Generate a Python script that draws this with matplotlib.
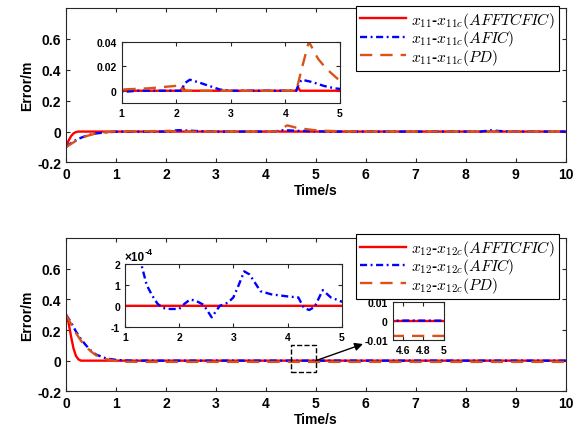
import numpy as np
import matplotlib
matplotlib.use('Agg')
import matplotlib.pyplot as plt
from matplotlib.patches import Rectangle

plt.rcParams['font.family'] = ['Liberation Sans', 'DejaVu Sans']
plt.rcParams['font.weight'] = 'bold'
plt.rcParams['mathtext.fontset'] = 'cm'
plt.rcParams['axes.unicode_minus'] = False

RED = '#ff0000'
BLUE = '#0000ff'
ORANGE = '#d95319'

# ---- x11 tracking error (upper panel) ----
t11_ftc = [0, 0.05, 0.1, 0.15, 0.2, 0.25, 0.3, 2.08, 2.12, 2.16, 4.2, 4.23, 4.27, 8.45, 8.5, 8.55, 10]
e11_ftc = [-0.1, -0.06, -0.03, -0.012, -0.003, 0, 0, 0, 0.003, 0, 0, 0.003, 0, 0, 0.002, 0, 0]

t11_afic = [0, 0.1, 0.2, 0.3, 0.4, 0.5, 0.6, 0.8, 1.0, 1.3, 2.1, 2.15, 2.25, 2.4, 2.6, 2.8, 3.0,
            4.2, 4.25, 4.3, 4.5, 4.7, 4.9, 5.2, 5.6, 8.3, 8.5, 8.7, 9.0, 10]
e11_afic = [-0.1, -0.075, -0.055, -0.04, -0.028, -0.019, -0.012, -0.005, -0.001, 0, 0, 0.006, 0.009, 0.007,
            0.004, 0.001, 0, 0, 0.006, 0.009, 0.007, 0.004, 0.002, 0.0005, 0, 0, 0.008, 0.003, 0, 0]

t11_pd = [0, 0.1, 0.2, 0.3, 0.4, 0.6, 0.8, 1.0, 1.5, 2.0, 2.08, 2.12, 4.2, 4.3, 4.43, 4.6, 4.75,
          4.95, 5.2, 5.5, 6.0, 10]
e11_pd = [-0.1, -0.08, -0.06, -0.044, -0.03, -0.012, -0.004, 0.001, 0.002, 0.004, 0.005, 0, 0, 0.018,
          0.04, 0.026, 0.018, 0.01, 0.005, 0.002, 0, 0]

# ---- x12 tracking error (lower panel) ----
t12_ftc = [0, 0.05, 0.1, 0.15, 0.2, 0.25, 0.3, 10]
e12_ftc = [0.3, 0.25, 0.16, 0.08, 0.03, 0.008, 0, 0]

t12_afic = [0, 0.1, 0.2, 0.3, 0.4, 0.5, 0.6, 0.8, 1.0, 1.2, 1.3, 1.4, 1.5, 1.6, 1.7, 1.8, 2.0, 2.1,
            2.2, 2.3, 2.45, 2.6, 2.75, 2.9, 3.0, 3.1, 3.2, 3.3, 3.5, 3.7, 4.0, 4.2, 4.3, 4.4, 4.5,
            4.65, 4.8, 5.0, 5.5, 10]
e12_afic = [0.3, 0.25, 0.19, 0.14, 0.1, 0.065, 0.04, 0.015, 0.005, 0.001, 2.0e-4, 1.0e-4, 0.5e-4,
            0.1e-4, -0.1e-4, -0.15e-4, -0.15e-4, 0.1e-4, 0.3e-4, 0.25e-4, 0.05e-4, -0.55e-4, 0.0,
            0.15e-4, 0.4e-4, 1.0e-4, 1.65e-4, 1.5e-4, 0.7e-4, 0.55e-4, 0.45e-4, 0.4e-4, -0.1e-4,
            -0.2e-4, -0.05e-4, 0.75e-4, 0.4e-4, 0.2e-4, 0, 0]

t12_pd = [0, 0.1, 0.2, 0.3, 0.4, 0.5, 0.6, 0.8, 1.0, 1.2, 1.5, 10]
e12_pd = [0.3, 0.24, 0.18, 0.13, 0.09, 0.06, 0.035, 0.01, -0.002, -0.007, -0.008, -0.008]

labels11 = [r'$x_{11}$-$x_{11c}(AFFTCFIC)\;$', r'$x_{11}$-$x_{11c}(AFIC)$', r'$x_{11}$-$x_{11c}(PD)$']
labels12 = [r'$x_{12}$-$x_{12c}(AFFTCFIC)\;$', r'$x_{12}$-$x_{12c}(AFIC)$', r'$x_{12}$-$x_{12c}(PD)$']

yticks_main = [-0.2, 0, 0.2, 0.4, 0.6]
ylabels_main = ['-0.2', '0', '0.2', '0.4', '0.6']


def style(ax, size):
    ax.tick_params(direction='in', top=True, right=True, labelsize=size, length=3,
                   color='#262626', width=0.8)
    for s in ax.spines.values():
        s.set_color('#262626')
        s.set_linewidth(0.8)
    for lab in ax.get_xticklabels() + ax.get_yticklabels():
        lab.set_fontweight('bold')


def draw(ax, t1, e1, t2, e2, t3, e3, labs=None):
    ax.plot(t1, e1, color=RED, lw=1.7, ls='-', label=None if labs is None else labs[0])
    ax.plot(t2, e2, color=BLUE, lw=1.7, dashes=(3, 1.5, 0.8, 1.5),
            label=None if labs is None else labs[1])
    ax.plot(t3, e3, color=ORANGE, lw=1.7, dashes=(5.2, 3.4),
            label=None if labs is None else labs[2])


def legend(ax, anchor):
    leg = ax.legend(loc='upper right', bbox_to_anchor=anchor, borderaxespad=0,
                    fontsize=11.2, fancybox=False, edgecolor='black', framealpha=1,
                    handlelength=3.0, borderpad=0.25, labelspacing=-0.1, handletextpad=0.3)
    leg.get_frame().set_linewidth(0.8)
    return leg


fig = plt.figure(figsize=(5.83, 4.39), dpi=100)

# upper panel
ax1 = fig.add_axes([0.1132, 0.6276, 0.857, 0.352])
draw(ax1, t11_ftc, e11_ftc, t11_afic, e11_afic, t11_pd, e11_pd, labels11)
ax1.set_xlim(0, 10)
ax1.set_ylim(-0.2, 0.8)
ax1.set_xticks(range(11))
ax1.set_yticks(yticks_main)
ax1.set_yticklabels(ylabels_main)
ax1.set_xlabel('Time/s', fontsize=10, fontweight='bold', labelpad=1)
ax1.set_ylabel('Error/m', fontsize=10, fontweight='bold', labelpad=2)
style(ax1, 10)
legend(ax1, (0.986, 1.013))

ins1 = fig.add_axes([0.2087, 0.7631, 0.3744, 0.1396])
draw(ins1, t11_ftc, e11_ftc, t11_afic, e11_afic, t11_pd, e11_pd)
ins1.set_xlim(1, 5)
ins1.set_ylim(-0.01, 0.04)
ins1.set_xticks([1, 2, 3, 4, 5])
ins1.set_yticks([0, 0.02, 0.04])
ins1.set_yticklabels(['0', '0.02', '0.04'])
style(ins1, 7.5)

# lower panel
ax2 = fig.add_axes([0.1132, 0.1064, 0.857, 0.349])
draw(ax2, t12_ftc, e12_ftc, t12_afic, e12_afic, t12_pd, e12_pd, labels12)
ax2.set_xlim(0, 10)
ax2.set_ylim(-0.2, 0.8)
ax2.set_xticks(range(11))
ax2.set_yticks(yticks_main)
ax2.set_yticklabels(ylabels_main)
ax2.set_xlabel('Time/s', fontsize=10, fontweight='bold', labelpad=1)
ax2.set_ylabel('Error/m', fontsize=10, fontweight='bold', labelpad=2)
style(ax2, 10)
legend(ax2, (0.986, 1.026))

# dashed box marking the zoomed region
ax2.add_patch(Rectangle((4.5, -0.075), 0.5, 0.18, fill=False, ls='--', lw=1.0, ec='black', zorder=5))

ins2 = fig.add_axes([0.2144, 0.2535, 0.3717, 0.1428])
draw(ins2, t12_ftc, e12_ftc, t12_afic, e12_afic, t12_pd, e12_pd)
ins2.set_xlim(1, 5)
ins2.set_ylim(-1e-4, 2e-4)
ins2.set_xticks([1, 2, 3, 4, 5])
ins2.set_yticks([-1e-4, 0, 1e-4, 2e-4])
ins2.set_yticklabels(['-1', '0', '1', '2'])
style(ins2, 7.5)
mult = ins2.text(0.0, 1.02, '\u00d710', transform=ins2.transAxes, fontsize=8.5,
                 fontweight='bold', va='bottom', ha='left')
ins2.annotate('-4', xy=(1.0, 0.55), xycoords=mult, fontsize=6.5, fontweight='bold',
              va='bottom', ha='left')

ins3 = fig.add_axes([0.6736, 0.2239, 0.088, 0.0866])
draw(ins3, t12_ftc, e12_ftc, t12_afic, e12_afic, t12_pd, e12_pd)
ins3.set_xlim(4.5, 5)
ins3.set_ylim(-0.01, 0.01)
ins3.set_xticks([4.6, 4.8, 5])
ins3.set_xticklabels(['4.6', '4.8', '5'])
ins3.set_yticks([-0.01, 0, 0.01])
ins3.set_yticklabels(['-0.01', '0', '0.01'])
style(ins3, 7.5)

ax2.annotate('', xy=(0.6226, 0.2141), xycoords='figure fraction', xytext=(5.0, 0.0),
             textcoords='data', arrowprops=dict(arrowstyle='-|>', color='black', lw=1.0,
                                                mutation_scale=12, shrinkA=0, shrinkB=0))

fig.savefig('out.png', dpi=100)
